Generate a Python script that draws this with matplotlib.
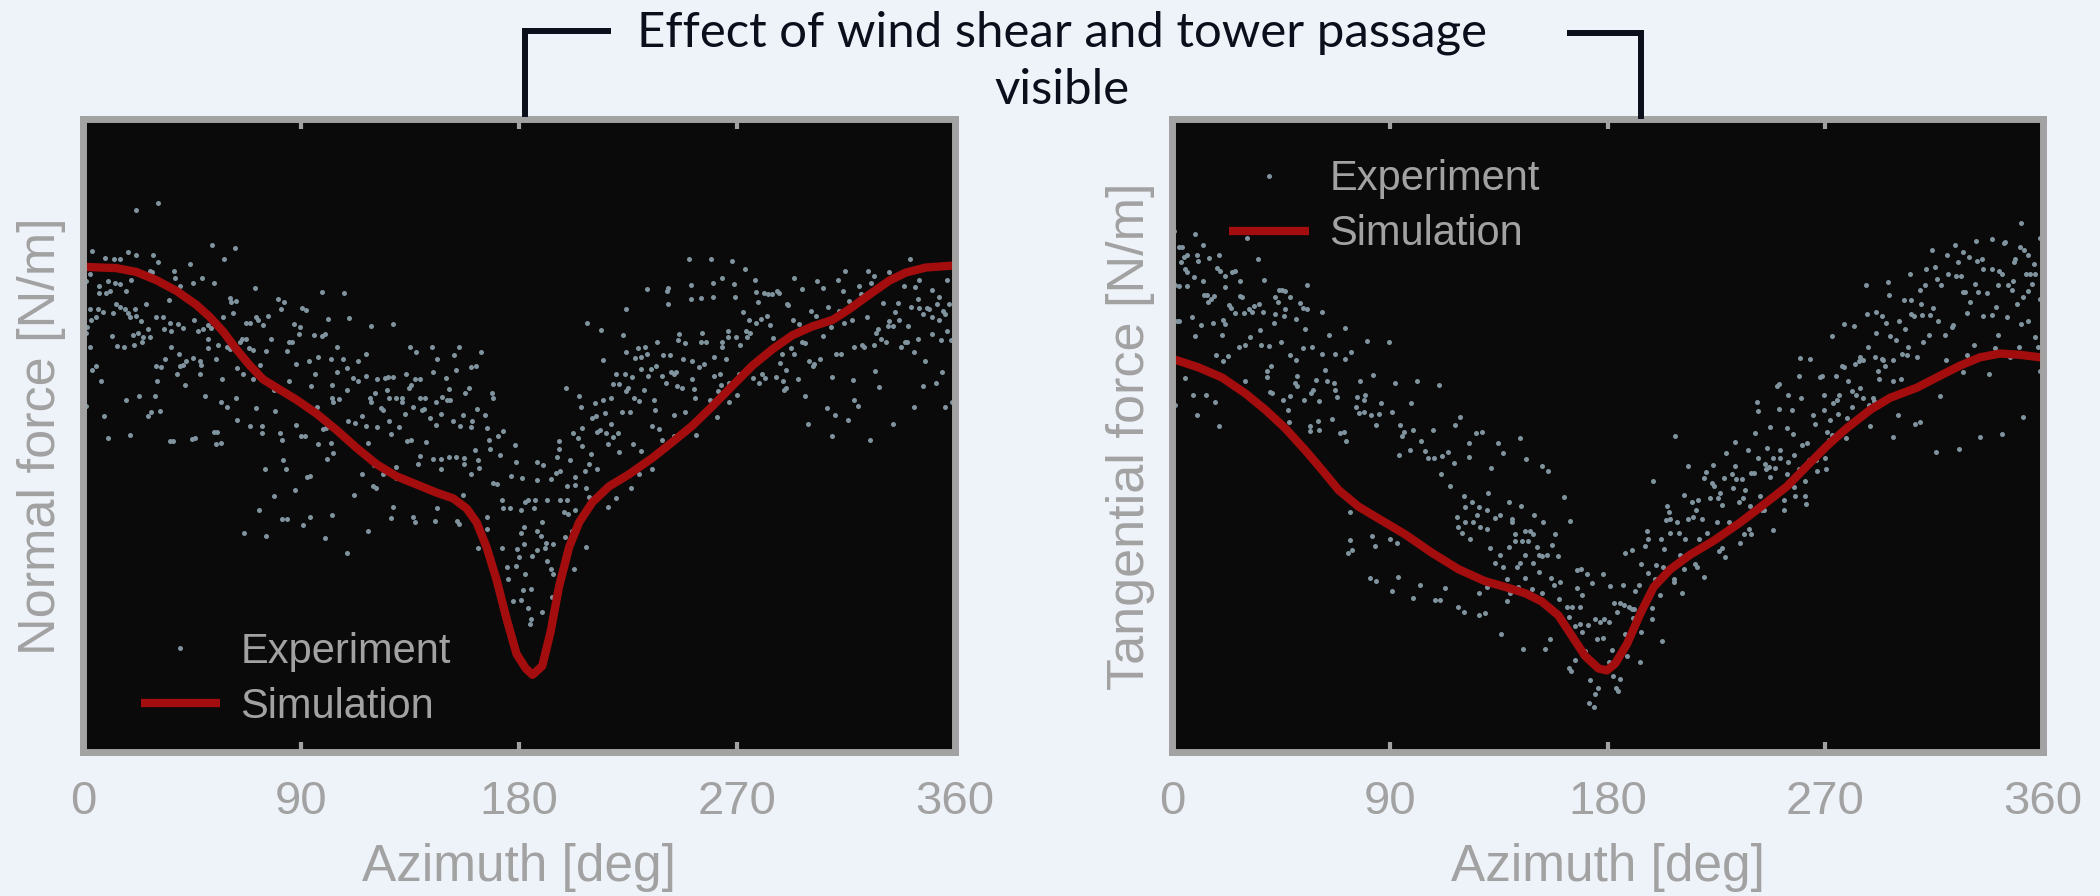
import matplotlib
matplotlib.use("Agg")
import matplotlib.pyplot as plt
from matplotlib.lines import Line2D

plt.rcParams['font.family'] = ['Liberation Sans', 'DejaVu Sans']

# ---------------- data ----------------
title_text = "Effect of wind shear and tower passage\nvisible"
x_ticks = [0, 90, 180, 270, 360]
x_label = "Azimuth [deg]"
y_labels = ["Normal force [N/m]", "Tangential force [N/m]"]
legend_labels = ["Experiment", "Simulation"]

normal_sim_az = [0, 0.7, 13.8, 22, 30.3, 38.6, 46.8, 52.3, 57.8, 63.3, 68.9, 74.4, 81.2, 88.1, 96.4,
                 104.7, 112.9, 121.2, 129.4, 137.7, 146, 152.8, 158.4, 162.5, 166.6, 170.7, 174.9,
                 179, 182.8, 185.6, 189.6, 193.1, 196.5, 200.7, 204.8, 210.3, 217.2, 225.4, 235.1,
                 243.3, 251.6, 259.9, 268.1, 276.4, 284.7, 292.9, 301.2, 309.4, 316.3, 324.6, 332.8,
                 339.7, 348, 359, 360]
normal_sim_val = [76.8, 76.7, 76.5, 75.9, 74.6, 72.9, 70.7, 68.8, 66.5, 63.7, 61.1, 58.9, 57.3, 55.7, 53.5,
                  50.9, 48.1, 45.5, 43.6, 42.3, 41, 40.1, 38.5, 36.3, 32.4, 27.3, 21,
                  15.5, 13.2, 12.2, 13.6, 19.1, 26.1, 32.4, 36.3, 39.5, 42, 43.9, 46.5,
                  49, 51.6, 54.7, 57.9, 61.1, 63.7, 65.9, 67.3, 68.3, 70, 72.3, 74.5,
                  75.8, 76.6, 76.9, 76.9]

tang_sim_az = [0, 0.7, 11, 20.7, 30.3, 38.6, 46.8, 55.1, 62, 68.9, 77.1, 85.4, 96.4, 107.4, 118.4,
               129.4, 137.7, 146, 152.8, 159.7, 165.2, 170.7, 176.3, 179.8, 183.2, 188.1, 193.6,
               199.1, 206, 214.2, 223.9, 234.9, 244.5, 254.2, 262.4, 270.7, 278.9, 288.6, 296.8,
               307.9, 317.5, 325.8, 334, 342.3, 350.5, 358.8, 360]
tang_sim_val = [62.2, 62.1, 60.8, 59.2, 56.7, 54.1, 51.2, 47.7, 44.6, 41.4, 38.8, 36.9, 34.4, 31.5, 28.9,
                27, 26.1, 25.1, 23.8, 21.6, 18.4, 15.2, 13.2, 12.9, 14, 17.1, 21.9,
                26.1, 28.9, 31.2, 33.4, 36.3, 39.1, 42, 45.2, 48.4, 51.2, 54.1, 56,
                57.6, 59.5, 61.1, 62.4, 63, 62.8, 62.4, 62.3]

normal_exp = [
 (22,85.7),(31,86.8),(3.7,79.2),(9,78.1),(13,77.9),(15.1,77.9),(18.6,79),(22,78.6),(28.9,78.6),(31,77.4),
 (27.5,76.1),(28.3,75.9),(37.5,76),(44.3,77.2),(53.4,80.1),(58.1,78),(62.7,79.7),(49,75),(54,74.2),(45.4,74.1),
 (39.9,73.7),(37.9,75),(2.8,75.5),(6.6,73.6),(6.5,72.6),(10.3,74.5),(13.1,74.2),(15.1,74),(17.9,72.9),(20,74.6),
 (9.6,72.6),(11,72.9),(2.8,70),(6.2,70),(8.3,69.5),(5.5,68.8),(3.4,68.3),(13.8,70.9),(15.1,70.4),(12.4,69.4),
 (17.2,70),(18.6,69.4),(21.3,70),(19.3,68.8),(22,68.9),(25.9,70.8),(24.1,68.1),(1.7,67.2),(2.8,64),(12.1,65.8),
 (14.2,64.2),(16.8,64),(20.7,66),(21.1,64.3),(22.7,66.2),(24.5,64.8),(24.8,65.6),(26.9,66.9),(27.5,65.6),(30,68.8),
 (33,68.8),(33.3,66.9),(35.5,71.4),(35.8,67.8),(36.5,66.5),(39.2,67.6),(41.3,67),(36.5,64.1),(33.7,62.1),(30,61.1),
 (32.4,60.8),(30.6,58.7),(39.7,63),(39.9,61.1),(41.3,61.2),(42.7,61.8),(42.3,58.1),(39,59.7),(45.4,62.3),(48.2,61.8),
 (48.9,61.2),(48.2,59.8),(45.9,68.3),(47.5,66.5),(49.6,66.9),(51.6,67.5),(51.6,65.3),(51.4,63.8),(53,67),(54.8,62.1),
 (55.8,64.3),(57.8,68.8),(60.6,71.8),(60.9,71.2),(63,71.3),(62,69.4),(59.5,64),(60.6,63.7),(57.3,59),(50.4,56.3),
 (56.9,55.3),(59.5,54.5),(63.1,56),(63.6,52.5),(65,64.9),(67.2,67.8),(68.8,67.8),(65.8,65.3),(67.4,65.3),(63.6,60.7),
 (66.1,59.7),(68.4,63.8),(70,63.5),(70.9,73.4),(71.3,68.8),(72.3,68.3),(74.4,67.5),(76.4,68.9),(77.7,65.3),(75.7,63.4),
 (73,61.2),(70.2,58.9),(71.6,54.4),(69.1,51.6),(73.7,51.6),(73.9,50.5),(75,44.7),(78.8,57.3),(79.2,53.9),(80.6,71.6),
 (81.9,70),(82.9,71.2),(81.2,50.4),(82.3,49.3),(82.6,46.1),(84,44.7),(84.3,63.4),(85.1,64.9),(86.3,64.8),(85.1,58.6),
 (87,67.6),(89.5,67.2),(90.6,70.2),(92,69.9),(89.2,66.1),(87.9,61.4),(88.1,51.7),(90.2,50),(91.6,50),(92.3,43.4),
 (93.6,43.6),(87.7,41.4),(78.8,40.4),(72.7,38.3),(66.4,34.7),(75.5,34.2),(82.1,36.9),(84.3,36.9),(90.9,35.9),(93.6,37.2),
 (93.4,61.8),(94.3,57.8),(95.7,59.7),(97.1,62.4),(95.3,65.9),(98.5,65.7),(99.8,66.1),(98.7,72.7),(101.2,68.5),(96.8,54.6),
 (97.1,48.7),(99.1,51),(100.5,51.2),(102.2,48.9),(103.3,47.2),(100.8,46.3),(102.6,37.5),(100,33.8),(102.3,62.1),(104.7,64),
 (104.7,60),(102.6,58),(103,56),(103.3,55.4),(105.8,55.8),(107.4,62.1),(107.8,72.5),(109.9,68.6),(108.8,60.7),(109.1,57.2),
 (109.5,52.4),(111.3,59.2),(112.2,52),(113.6,61.8),(113.7,58.6),(115,53.2),(116.8,62.9),(117,59.5),(117,51.6),(117.5,48.8),
 (115.1,44),(111.8,40.6),(109.1,31.5),(117.7,34.9),(119.1,67.4),(118.4,56),(118.7,55.4),(120.6,56.8),(121.2,59),(121.4,51.4),
 (120.1,45.3),(119.8,42.1),(120.8,41.8),(123.9,43.9),(123.2,54.4),(123.9,54),(124.6,59.2),(126,59.3),(125.3,57.3),(126.4,56),
 (126.4,52.3),(127,50.3),(127.8,59.3),(128,67.6),(129.4,56),(130.5,51.4),(129.4,45.1),(129.4,43.3),(127.1,37),(127.8,38.8),
 (131.5,56),(131.9,55.4),(132.9,53.5),(133.3,59.7),(134.7,57.6),(135.6,58),(135,64.1),(137.3,63.2),(136.3,54.6),(137,58.9),
 (139.3,59),(133.6,49.1),(135.6,49.3),(139.1,46.8),(138.4,45.6),(136.3,37.2),(137.1,36.4),(139.8,54.1),(139.1,56),(141.1,56),
 (140.7,54.2),(141.8,49),(143.2,52.8),(143.9,64),(144.6,60),(144.3,46.3),(145.7,55.3),(145.7,51.7),(145.3,36.5),(146,38.5),
 (146.2,62.2),(147.6,46.3),(148,44.7),(147.6,53.5),(148.4,56.1),(149.8,59.2),(150.1,55.7),(150.9,57.4),(151.2,46.6),(151.5,55.7),
 (152.6,52.3),(153.1,62.8),(153.8,60.4),(153.9,46.6),(154.5,36.5),(155.2,36),(155.3,64.1),(155.6,51.6),(156.7,53.3),(157.7,56.7),
 (157.3,46.5),(157,40.7),(157.4,45.5),(159.5,57.6),(160,60.8),(160.4,52.3),(160.1,51.4),(160,43.9),(161.8,47.7),(162.8,54.2),
 (163.2,46.1),(163.6,44.9),(164.3,63.2),(162.2,61),(165.9,53.3),(166.9,51.2),(166.6,37.2),(163.2,32.3),(166.6,35.3),(169,56.7),
 (169.2,56),(167.7,49.3),(168,47.9),(169.4,42.6),(170.8,42.3),(171.4,50),(173.2,50.8),(172.1,46.9),(172.8,39.8),(173.5,38.5),
 (172.8,32.3),(175.2,29.3),(175.6,27.3),(172.1,25.1),(176.3,38.5),(176.9,43.6),(178.6,45.8),(178.3,48.5),(179,32.1),(178.7,29.4),
 (177.6,23.8),(1.1,74.5),(1.1,66.2),(1.4,54.7),(7.6,58.6),(5.2,61.1),(3.9,60.4),(8.7,53.2),(10.3,49.6),(19.3,50.1),
 (17.9,55.7),(23.1,56.3),(26.9,53.2),(28.2,53.8),(29.6,56.3),(31.9,53.9),(36.1,49.1),(37.2,49.2),(44.8,49.5),(46.1,49.6),
 (54,50.6),(55.4,50.6),(54.8,48.7),(57.1,48.8),
 (184.4,20.3),(185.1,21.1),(183.9,22.8),(189.6,22.1),(180.7,24),(181.7,25.6),(184.8,25.7),(182.5,28.2),(180.2,30.8),(185.2,31),
 (187.6,31.9),(190.7,32.3),(191,33),(194.2,32.9),(193.4,28.9),(194.2,28.2),(193.5,24.5),(191.7,30.2),(182.1,32.9),(181.9,35.6),
 (180.7,34.7),(187.6,34.9),(189.2,34.2),(189.6,36.3),(186.2,38.6),(186.6,39.9),(183.9,39.9),(182.5,39.6),(180.7,38.3),(181.4,43.3),
 (187.6,43),(187.6,45.8),(190,45.4),(191.7,39.9),(193.1,43.1),(195.1,44.1),(196.8,44.5),(196.9,39.8),(198.6,37.9),(200.4,37.7),
 (200,39.8),(203.1,38.2),(202,34.9),(198.9,34),(202.7,28.9),(207.8,32.4),(200,42.1),(203.1,42.2),(203.1,43.4),(200.9,46.1),
 (195.8,46.6),(196.5,47.9),(196.5,49.1),(199.3,57.6),(202.3,50.4),(204.5,49.7),(204.8,56.3),(205.5,54.6),(206.2,51.2),(206.2,48.4),
 (207.3,44.5),(208.9,45.6),(207.8,41.7),(208.9,40.3),(209.6,47.1),(210,52.8),(211.4,55.2),(211.9,53.2),(212.4,44.7),(212.1,50.6),
 (213.3,50.9),(213.7,66.7),(214.7,61.9),(214.7,55.7),(215.4,53.6),(208.2,67.9),(216.1,50.5),(216.8,48.7),(216.9,38.8),(217.9,51.8),
 (217.9,56),(218.8,58.2),(218.8,49.8),(220.2,59.7),(220.2,40.2),(220.8,50.4),(221.3,58.2),(221.3,47.4),(222.7,53.8),(223,66),
 (223.8,59.8),(224.1,63.2),(224.1,70),(224.1,57),(224.8,57.5),(225.9,53.8),(226.1,41.8),(226.8,59.3),(227.2,48.7),(227.9,62.3),
 (227.5,56),(229.3,63.8),(229.6,55.5),(229.6,43.9),(230.3,60.6),(230.3,62.4),(230.5,47.6),(231.6,57.2),(232,64.1),(233,73.2),
 (233,63),(233.4,59.5),(234.4,60.6),(234.8,51.6),(235.1,44.7),(235.8,55.7),(236.2,54.1),(236.5,61),(237.1,64.8),(237.8,51),
 (238.9,59.5),(239.2,49.3),(239.5,62.7),(240.6,58.4),(241.3,72.9),(241.7,73.4),(241.7,70.8),(242.2,62.7),(242.9,60),(243.8,59.7),
 (244,53.3),(244,50),(245,60),(245.4,57.9),(245.8,65.1),(246.1,66.1),(247.2,57.6),(247.5,62.1),(248.4,64.6),(248.6,53.8),
 (247.9,50.6),(250,77.9),(250.9,73.9),(251.2,71.6),(251.3,61.8),(251.6,58.9),(252.3,57.4),(252.6,56),(253,50.1),(254.4,60.8),
 (255,71.8),(255,64.9),(255.7,66.2),(256.4,61.4),(257.1,64.9),(258.8,55.7),(259.2,78),(259.9,74.1),(260.1,72),(260.6,62.4),
 (260.6,59.5),(261.9,53),(262.3,57.1),(262.9,59.7),(263.3,58.1),(263.7,64),(264,64.8),(264,74.9),(265.4,62.1),(266.1,65.6),
 (266.5,55.4),(266.8,58.4),(266.1,66.5),(268.1,77.7),(268.8,74),(269.2,72),(269.5,65.6),(269.8,56.5),(270.9,59.8),(271.2,64.3),
 (272,59.5),(272.5,69.6),(273.1,76.4),(273.6,66.5),(274.3,65.6),(275,68.3),(275.3,66.3),(276.4,59.2),(277.4,74.7),(278,72.7),
 (278.5,71.1),(278,67.8),(278.9,58.3),(279.8,68.5),(280.5,59.8),(281.2,72.5),(281.6,59.2),(282.2,68.9),(282.6,72.4),(283.6,67.5),
 (284.4,72.4),(284.9,65.4),(286,59.3),(286.7,72.9),(287.4,72.5),(287.7,61.5),(288.5,63),(288.8,58.7),(289.5,57.2),(290.2,57.6),
 (290.2,60.4),(290.6,70.9),(291,70.6),(292.2,63.8),(293.2,68.3),(293.6,63),(293.7,75),(295.1,58.9),(295.7,67.7),(296.8,73.2),
 (297,64.9),(298.1,64.6),(298.1,56.3),(299.5,51.9),(299.8,61.8),(300.6,69.7),(301.2,61),(301.9,61.4),(302.6,69),(303,74.4),
 (304.3,62.1),(305.3,65.7),(305.6,73.4),(307,54.4),(307.4,70.3),(308.7,67.2),(309.2,59.3),(309.4,49.9),(310.5,53.3),(310.8,62.9),
 (311.9,74.6),(312.2,69.8),(312.9,63),(313.6,72.9),(314.3,67.8),(314.7,76.1),(316,52.5),(316.3,71.3),(317.4,68.3),(317.7,58.8),
 (318.4,64.1),(318.4,55.6),(319.8,54.7),(320.5,73.7),(321.1,72.4),(321.8,64.3),(322.5,64),(323.5,68.8),(324,76.1),(325.3,74.2),
 (325,49.3),(326.7,75.3),(326.7,64.3),(327.1,60.2),(327.3,66.2),(328.4,66.9),(328.7,57.7),(329.4,65.3),(330.1,71),(331.5,64.8),
 (332.2,67.3),(332.6,75.9),(332.9,68.1),(334.2,51.9),(334.2,67.4),(335.3,69.5),(336.3,71),(337,68.3),(337.7,64),(339,73.7),
 (339.5,64.9),(340.1,64.8),(340.8,67.4),(341.4,77.9),(341.8,70.4),(343.2,63.2),(343.2,54.6),(343.6,73.5),(344.6,71.6),(344.6,65.3),
 (345,74.7),(345.2,70.2),(346.9,69.2),(347.7,61.8),(346.9,57.9),(348.3,70.2),(349.4,70),(350.5,73),(350.7,66.1),(350.7,68.8),
 (352.1,58.3),(352.4,70.8),(353.2,72),(353.5,68.3),(354.2,65.1),(354.6,60),(354.9,69.7),(356,69.2),(356,54.6),(356.9,74.6),
 (356.9,66.5),(357.6,70.8),(358.3,65.1),(358.7,55.4),(359.7,72.1),(359.7,57.9)]

tang_exp = [
 (0.7,82.3),(9.4,81.9),(12.7,80.2),(2.8,79.9),(4.1,79.8),(4.8,78.3),(6.2,78.5),(10.3,78.6),(10.7,77.6),(15.4,78.1),
 (19.3,78.6),(3.9,77.4),(5.5,76.3),(6.2,75.9),(9,75.1),(12.7,74.4),(18.6,76.5),(20,76.1),(22,75.3),(24.8,75.9),
 (26.2,76),(28.2,74.4),(31,81.2),(35.5,78),(37.9,74.6),(1.4,73.9),(2.8,73.7),(6.2,73.7),(13.1,72.3),(14.5,72.3),
 (17.2,72.1),(16.2,71.6),(14.9,71.2),(21.8,73.5),(23.4,70.7),(24.5,70.2),(26.2,69.4),(28.2,72.1),(28.9,71.9),(29.6,69.4),
 (31.7,70),(33,69.6),(33.7,70.5),(36.1,70.8),(37.5,69.5),(36.5,66.7),(42.4,72),(43.8,71.2),(45.4,73.1),(46.8,72.9),
 (48.9,72),(44.3,73.1),(42.7,69.3),(42,67.8),(46.1,68.9),(46.8,70),(51.2,68.4),(53,71),(54,70.2),(55.8,70),
 (55.8,73.9),(54.8,66.9),(62.2,69.6),(2.1,68.1),(3,68.1),(8.3,68.8),(12.1,67.5),(16.8,67.9),(20.9,68.3),(21.8,67.6),
 (9.4,65.7),(20.7,65.9),(27.5,64),(30,64.4),(32.4,65.6),(36.9,64.3),(40.2,64.2),(45.2,64.8),(48.9,62.8),(51.2,61.9),
 (54,63.8),(57.8,64),(62,62.9),(64.7,66),(67.2,63),(71.3,67.1),(71.3,62.1),(73.9,63.2),(80.6,65),(89.5,64.9),
 (18.3,62.7),(23.1,62.6),(21.1,61.8),(5.2,59.2),(0.7,61.9),(1.4,54.9),(8.5,56.5),(14,56.5),(10.3,53.3),(17.9,55.3),
 (19.3,51.6),(30.3,58.7),(41,61.1),(39.2,60.2),(39.2,59.3),(40.6,56.9),(41.3,56.8),(45.7,55.6),(47.9,54.1),(48.2,52.1),
 (48.9,56.3),(51,58.3),(51.6,57.9),(51.6,59.5),(54.5,55.6),(57.6,56.7),(58.1,57.3),(59.5,58.8),(60.6,55.5),(56.9,51.6),
 (57.2,50.7),(60.3,52.3),(60.6,50.9),(63.1,60.4),(64,58.6),(67.1,58.3),(67.5,57.2),(68.4,56.1),(66.1,52.6),(69.5,50.4),
 (70.9,50.6),(71.9,49.1),(76.4,56.1),(76.1,54.6),(77.8,58.6),(79.2,55.7),(79.9,56.4),(77.4,53.6),(79.2,53.8),(82.2,53.3),
 (83,59.6),(84.3,51.7),(85.4,53.5),(86.3,55.1),(90.9,53.8),(92.1,58.4),(94.3,51.7),(95,50),(96,50.6),(94,46.9),
 (98.7,55.1),(99.8,50.9),(101.2,58.7),(98.5,47.7),(103,49.1),(104.7,47.6),(105.8,46.5),(107.7,50.9),(108.1,46.5),(111.3,43.9),
 (111.8,46.8),(110.2,58.1),(114,47.4),(117,51.7),(119.1,53),(114.7,42),(116.4,45.7),(122.6,48.8),(122.8,46.6),(125.6,50.5),
 (128.3,50.6),(131.9,44.9),(130.5,41),(134.9,48.8),(137,47.2),(139.4,39.6),(144.3,38.9),(143.9,49.6),(146.2,46.3),(153.1,45.2),
 (155.3,44.4),(162.2,40.3),(164.3,36.5),(153.5,36.3),(149.8,37.5),(145.7,34.9),(148,35),(149.4,34.4),(150.8,32.4),(151.5,31.2),
 (146,31.2),(143.9,29.9),(141.8,33.4),(139.1,32.4),(135.6,31.2),(133.3,29.9),(131.5,32.3),(130.1,35.3),(127.4,35.6),(126,37.5),
 (124.6,36.3),(123.2,33.7),(121.2,36.3),(119.8,34.7),(118.4,35.6),(117.7,37.2),(120.5,40.4),(121.2,38.8),(123.9,39.5),(126.7,38.8),
 (130.1,38.2),(133.3,37),(135.6,37.5),(140.5,36.9),(140.7,36.3),(141.8,34.4),(144.6,33.4),(147.3,33.4),(149.4,29.9),(152.8,31),
 (154.9,31.2),(157,32.8),(158.4,34.4),(159.7,31),(156.7,27.5),(160.4,26.9),(157.7,26.4),(153.1,25.2),(148.7,25.7),(151.5,28.4),
 (146,27.5),(143.2,26.1),(142.5,29.3),(139.8,25.1),(138.4,27.3),(137,29.3),(130.1,26.1),(126.7,25.1),(120.5,22.2),(118.1,22.9),
 (129.4,21.9),(126.7,21.6),(112.9,25.9),(110.9,24),(108.8,24),(102.6,26.4),(99.8,24.3),(93.6,27.7),(90.9,25.4),(84.4,27),
 (81.9,27.5),(82.6,34.2),(84,32.6),(90.2,33.7),(92.9,33.1),(74.4,31.9),(72.7,31.5),(73.7,33.5),(73.7,37.9),(138.4,23.9),
 (136,18.7),(145,16.3),(154.2,16.3),(156.3,17.8),(160.1,24.2),(163.2,22.9),(165.2,22.9),(163.9,21.4),(166.6,20),(168.7,20.3),
 (169.4,18.9),(172.1,20.1),(174.9,21.1),(176.9,20.6),(175.6,17.9),(178.3,18.1),(170.7,16),(166.6,14.6),(163.9,13.3),(165,12.8),
 (172.8,11.4),(176,10.1),(174.9,9.2),(172.4,7.8),(174.6,7.1),(167.3,28.7),(169.1,29),(171.4,28.1),(173.5,26.7),(178.3,28.1),
 (178.7,21),(167.3,25.9),(168.7,22.9),(169.4,24.8),
 (180.5,14.3),(181.9,16.2),(184.6,15.2),(185.1,11.5),(183.7,10.1),(184.4,9.6),(182.3,12),(193.3,14.3),(188.1,15.2),(187.4,18.7),
 (190.8,20),(190.5,21.2),(191.1,22.6),(180.5,20.5),(183.9,22.1),(182.6,23.5),(185,23.6),(186.7,23.2),(188.8,22.9),(190.1,22.6),
 (186.4,26.4),(181.2,26.2),(192.9,26.4),(194,18.9),(191.5,25.4),(197,25.1),(198.4,22.8),(198.4,21),(202.5,17.6),(201.8,24.8),
 (199.8,27.3),(202.9,29.3),(200.2,29.6),(196.6,28.3),(194,29.7),(195.4,32.6),(196.7,33.7),(187.4,31.5),(190.1,31.9),(196.3,35),
 (198.8,42.8),(202.1,33.6),(203.2,32.1),(204.6,38.9),(205.3,37.9),(204.3,36.7),(206,36.8),(205.7,34.7),(207.3,27.3),(207.5,26.8),
 (208,50),(208.7,36.4),(209.4,34.7),(209.8,31.2),(210.8,25.1),(211.5,28.9),(211.8,40.7),(212.2,33.7),(213.3,45.2),(213.3,36.9),
 (214.9,39.5),(215.3,37.2),(216.3,29.7),(217,29.3),(216.7,38.2),(217.3,39.9),(217.7,33.7),(219,36.9),(219.7,27.7),(220,43.3),
 (220.8,44.2),(221.1,34.7),(222.2,40.1),(223.2,42.6),(223.6,45.3),(223.9,42),(225.2,36.3),(225.7,40.1),(225.9,31.8),(226.6,40.9),
 (227.3,39.1),(227.3,32.3),(228,43.3),(228.7,30.8),(229.1,47.2),(230.1,36.3),(231.4,44),(231.9,41.7),(232.8,49),(232.8,45.2),
 (233.2,43.1),(234.2,39.5),(234.6,33.1),(235.6,43.1),(236,40.2),(236.3,34.4),(236.9,41.5),(237.9,47.7),(238.3,35.3),(239,38.9),
 (239.2,34.4),(239.4,44.1),(240.4,44.1),(241.1,50.5),(241.8,55.4),(242.1,53.9),(242.2,46.5),(243.1,40.4),(243.8,38.2),(244.5,38.2),
 (245.2,45.5),(245.9,48.1),(245.6,44.7),(246.6,45),(247,51.4),(247.3,43.4),(248.2,35.1),(248.4,46.5),(249.3,44.9),(250,57.9),
 (250.7,58.2),(250.7,54.3),(251.1,47.7),(251.4,46.5),(252.8,39.9),(252.8,38.2),(254.2,43.9),(254.2,51.2),(254.8,56.5),(254.8,45.8),
 (256.2,54.1),(256.6,50.3),(256.9,47),(257.2,41.9),(257.6,40.4),(259,59.4),(259,44.7),(259.7,62.3),(260.1,55.9),(260.4,48.6),
 (261,45.1),(261.7,42.8),(261.7,40.4),(262,39.2),(262.4,48.8),(263.1,46.1),(263.8,62.1),(264.1,46.3),(264.9,53.3),(265.9,51.9),
 (266.3,46.1),(266.6,44.4),(267.7,47.7),(267.9,59.3),(268.6,59.5),(269.3,54.1),(269.6,56.5),(270,46.5),(270.4,44.7),(270.7,50.6),
 (271.4,49.3),(272.1,52.5),(272.7,65.8),(272.7,50.1),(273.4,55.1),(274.3,59.4),(274.8,55.7),(275.1,53.5),(275.5,56.5),(276.9,61.1),
 (277.8,67.6),(277.8,60.8),(278.7,49.6),(278.9,52.8),(279.6,58.6),(281,54.6),(281,57),(282,67.3),(282.4,61.4),(282.8,56.5),
 (283.8,61.8),(284.2,57.6),(284.5,62.4),(285.8,61.9),(285.8,55.9),(286.9,73.9),(287.2,69.2),(287.5,64),(287.9,54.9),(288.6,51.6),
 (289.7,56),(290,55.5),(290.4,62.5),(291.1,69.6),(291.1,66.2),(292,60.2),(292.4,58.9),(293.4,68.9),(293.4,62.1),(293.8,61.9),
 (294.8,61),(295.2,67.8),(295.9,74.3),(296.2,72.3),(296.6,65.7),(297.9,58.6),(297.9,49.8),(298.2,61.9),(299.3,65.1),(300,53.3),
 (300.3,68.1),(301.3,58.9),(301.7,63),(302.4,71.5),(302.8,66.9),(303.7,62.7),(304.4,64),(305.1,75.5),(305.4,71.5),(305.4,69.2),
 (306.5,69),(307.2,51.9),(308.1,62.4),(309,52.2),(309.2,73),(309.5,70.9),(309.9,69.1),(310.6,64.9),(311.3,73.9),(311.7,76.4),
 (312.7,66),(313.4,69.1),(314.1,79.3),(314.5,70.2),(315.4,76.7),(316.1,74.8),(315.8,47.5),(316.8,68.1),(317.5,56.3),(317.9,73.9),
 (319.6,65.9),(320,62),(320.5,78.6),(320.9,75.5),(322.3,67.2),(323,67.5),(323.7,80.1),(324.1,75.3),(324.7,77.4),(325.1,47.9),
 (326,75.3),(326.9,72.7),(327.1,79),(327.1,60),(327.9,72.7),(328.5,69.4),(328.5,62.7),(329.6,78.3),(329.9,71.1),(331.3,64.3),
 (332,74),(332.4,80.8),(332.6,77.7),(333.3,72.7),(334,49.8),(334.7,78),(335.4,76.4),(335.4,68.9),(336.8,72.6),(337.5,59.8),
 (338.8,81.1),(338.8,76.4),(338.8,69.1),(340.2,63.8),(340.6,70.4),(341.6,73.9),(341.6,65.9),(342,76.1),(343,75.6),(343,50.3),
 (343.7,80.5),(344.4,80.6),(345,68.8),(345.7,73.9),(346.4,62.5),(347.1,73),(347.5,74.5),(348.1,77.4),(348.5,78),(349.4,70.9),
 (349.9,64),(350.5,79.8),(350.8,83.6),(350.8,67.6),(351.7,72),(351.9,53),(352.3,79.3),(353,75.6),(353.6,68.1),(354,78.6),
 (354,72.9),(354.7,75.5),(355.4,74),(356.1,77.1),(356.8,65.6),(356.9,75.5),(358.1,64),(358.8,81.2),(358.8,71.6),(358.8,60.2)]

# ---------------- style ----------------
BG = '#eef2f9'
FACE = '#0a0a0a'
FRAME = '#a2a2a2'
DOT = '#80949f'
RED = '#a30d0d'
TXT = '#0b0f1c'

W, H = 2100, 896
fig = plt.figure(figsize=(W / 100, H / 100), dpi=100, facecolor=BG)

def px_rect(x0, x1, ytop, ybot):
    return [x0 / W, 1 - ybot / H, (x1 - x0) / W, (ybot - ytop) / H]

axes = [fig.add_axes(px_rect(83, 955, 119.5, 752)),
        fig.add_axes(px_rect(1172, 2043, 119.5, 752))]

datasets = [(normal_exp, normal_sim_az, normal_sim_val),
            (tang_exp, tang_sim_az, tang_sim_val)]
legend_places = [('lower left', (0.066, 0.04)), ('upper left', (0.066, 0.937))]

for i, (ax, (exp, saz, sval)) in enumerate(zip(axes, datasets)):
    ax.set_facecolor(FACE)
    eaz = [p[0] for p in exp]
    ev = [p[1] for p in exp]
    h1, = ax.plot(eaz, ev, 'o', ms=3.6, color=DOT, mec='none', label=legend_labels[0], zorder=2)
    h2, = ax.plot(saz, sval, '-', lw=6, color=RED, solid_capstyle='butt', label=legend_labels[1], zorder=3)
    ax.set_xlim(0, 360)
    ax.set_ylim(0, 100)
    ax.set_xticks(x_ticks)
    ax.set_yticks([])
    for s in ax.spines.values():
        s.set_color(FRAME)
        s.set_linewidth(5)
        s.set_zorder(5)
    ax.tick_params(axis='x', which='both', direction='in', length=7, width=3, color=FRAME,
                   top=True, bottom=True, labelsize=34, labelcolor=FRAME, pad=20)
    ax.set_xlabel(x_label, fontsize=37, color=FRAME)
    ax.xaxis.label.set_va('center')
    ax.xaxis.set_label_coords(0.5, -0.182)
    ax.set_ylabel(y_labels[i], fontsize=37.5, color=FRAME)
    ax.yaxis.label.set_va('center')
    ax.yaxis.set_label_coords(-0.048, 0.5)
    loc, anchor = legend_places[i]
    ax.legend([h1, h2], legend_labels, loc=loc, bbox_to_anchor=anchor, frameon=False,
              fontsize=30, labelcolor=FRAME, handlelength=1.9, handletextpad=0.5,
              borderpad=0, borderaxespad=0, labelspacing=0.36, numpoints=1)

# title and bracket connectors
fig.text(1062 / W, 1 - 61 / H, title_text, ha='center', va='center', fontsize=35.4,
         color=TXT, family=['Lato', 'DejaVu Sans'], linespacing=1.36, multialignment='center')

def fig_line(pts):
    xs = [p[0] / W for p in pts]
    ys = [1 - p[1] / H for p in pts]
    fig.add_artist(Line2D(xs, ys, transform=fig.transFigure, color=TXT, lw=4.3,
                          solid_joinstyle='miter', solid_capstyle='butt'))

fig_line([(611, 31), (525, 31), (525, 117)])
fig_line([(1567, 33), (1641, 33), (1641, 119)])

fig.savefig('out.png', dpi=100, facecolor=BG)
